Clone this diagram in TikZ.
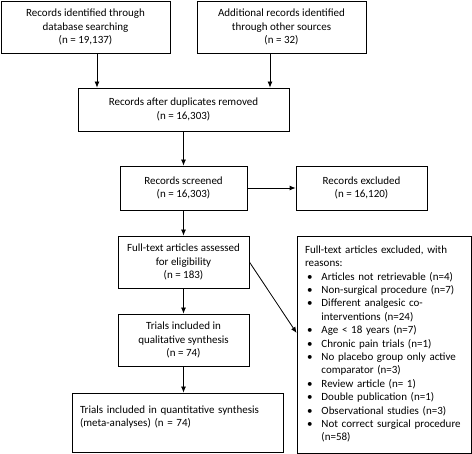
\documentclass[tikz,border=0pt]{standalone}
\usepackage{fontspec}
\setmainfont{Carlito}
\usetikzlibrary{arrows.meta}
\begin{document}
\begin{tikzpicture}[x=1pt,y=-1pt]
\tikzset{box/.style={draw, line width=0.8pt, align=center, inner sep=4pt, font=\fontsize{11}{13.2}\selectfont},
         flow/.style={line width=0.8pt, -{Latex[length=6pt,width=5pt]}}}
    \useasboundingbox (0,0) rectangle (472,454);
    \node[box, minimum width=169, minimum height=52] at (85.5,27) (db) {Records identified through\\database searching\\(n = 19,137)};
    \node[box, minimum width=169, minimum height=52] at (281.5,27) (other) {Additional records identified\\through other sources\\(n = 32)};
    \node[box, minimum width=211, minimum height=43] at (183.5,109.5) (dup) {Records after duplicates removed\\(n = 16,303)};
    \node[box, minimum width=127, minimum height=44] at (183.5,188) (scr) {Records screened\\(n = 16,303)};
    \node[box, minimum width=131, minimum height=44] at (361.5,188) (exc) {Records excluded\\(n = 16,120)};
    \node[box, minimum width=131, minimum height=52] at (183.5,262) (full) {Full-text articles assessed\\for eligibility\\(n = 183)};
    \node[box, minimum width=131, minimum height=52] at (183.5,340) (qual) {Trials included in\\qualitative synthesis\\(n = 74)};
    \node[box, align=left, text width=195, inner xsep=8pt, inner ysep=10pt, minimum height=59] at (177.5,422.5) (quant) {Trials included in quantitative synthesis\\(meta-analyses) (n = 74)\\\mbox{}};
    \node[box, align=left, text width=158, inner sep=8pt, minimum height=215] at (384,344.5) (reasons) {%
      \renewcommand{\arraystretch}{1.015}%
      \begin{tabular}{@{\hspace{2pt}}l@{\hspace{9pt}}l@{}}
        \multicolumn{2}{@{}l@{}}{Full-text articles excluded, with}\\
        \multicolumn{2}{@{}l@{}}{reasons:}\\
        \textbullet & Articles not retrievable (n=4)\\
        \textbullet & Non-surgical procedure (n=7)\\
        \textbullet & Different analgesic co-\\
                    & interventions (n=24)\\
        \textbullet & Age < 18 years (n=7)\\
        \textbullet & Chronic pain trials (n=1)\\
        \textbullet & No placebo group only active\\
                    & comparator (n=3)\\
        \textbullet & Review article (n= 1)\\
        \textbullet & Double publication (n=1)\\
        \textbullet & Observational studies (n=3)\\
        \textbullet & Not correct surgical procedure\\
                    & (n=58)
      \end{tabular}};

    \path[flow] ([xshift=11.5]db.south) edge ([xshift=-86.5]dup.north);
    \path[flow] ([xshift=-11.5]other.south) edge ([xshift=86.5]dup.north);
    \path[flow] (dup) edge (scr);
    \path[flow] (scr) edge (exc);
    \path[flow] (scr) edge (full);
    \path[flow] (full.east) edge ([yshift=11.5]reasons.west);
    \path[flow] (full) edge (qual);
    \path[flow] (qual.south) edge (qual.south |- quant.north);
\end{tikzpicture}
\end{document}
